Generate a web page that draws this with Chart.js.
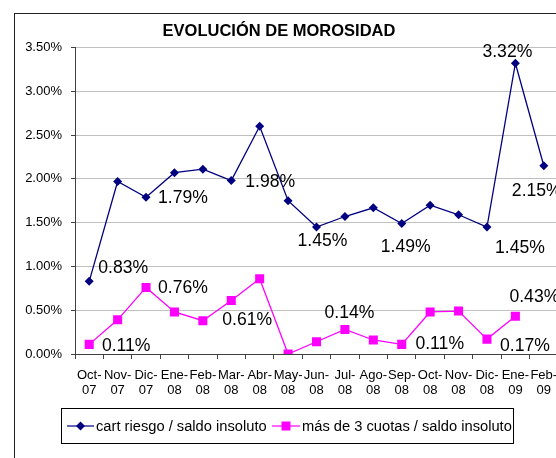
<!DOCTYPE html>
<html>
<head>
<meta charset="utf-8">
<script src="https://cdn.jsdelivr.net/npm/chart.js@4"></script>
<style>
  html, body { margin:0; padding:0; overflow:hidden; background:#fff; }
  #wrap { position:relative; width:580px; height:458px; }
</style>
</head>
<body>
<div id="wrap"><canvas id="c" width="580" height="458"></canvas></div>
<script>
// data
const months = [['Oct-','07'],['Nov-','07'],['Dic-','07'],['Ene-','08'],['Feb-','08'],['Mar-','08'],['Abr-','08'],['May-','08'],['Jun-','08'],
  ['Jul-','08'],['Ago-','08'],['Sep-','08'],['Oct-','08'],['Nov-','08'],['Dic-','08'],['Ene-','09'],['Feb-','09']];
const cartRiesgo = [0.83,1.97,1.79,2.07,2.11,1.98,2.60,1.75,1.45,1.57,1.67,1.49,1.70,1.59,1.45,3.32,2.15];
const masDe3Cuotas = [0.11,0.39,0.76,0.48,0.38,0.61,0.86,0.00,0.14,0.28,0.16,0.11,0.48,0.49,0.17,0.43,null];
const seriesNames = ['cart riesgo / saldo insoluto','más de 3 cuotas / saldo insoluto'];
const yTicks = [0,0.5,1,1.5,2,2.5,3,3.5];

// which points carry a value label, and where it sits relative to the point
const labelSpots = [
  {ds:0, i:0, dx:34, dy:-13}, {ds:0, i:2, dx:37, dy:1}, {ds:0, i:5, dx:39, dy:2},
  {ds:0, i:8, dx:6, dy:14}, {ds:0, i:11, dx:4, dy:24}, {ds:0, i:14, dx:33, dy:21},
  {ds:0, i:15, dx:-8, dy:-11}, {ds:0, i:16, dx:-7, dy:25},
  {ds:1, i:0, dx:37, dy:2}, {ds:1, i:2, dx:37, dy:1}, {ds:1, i:5, dx:16, dy:20},
  {ds:1, i:8, dx:33, dy:-29}, {ds:1, i:11, dx:38, dy:0}, {ds:1, i:14, dx:38, dy:7},
  {ds:1, i:15, dx:19, dy:-19}
];

const FONT = '"Liberation Sans", Arial, sans-serif';
const NAVY = '#000080', PINK = '#FF00FF';

const decor = {
  id:'decor',
  beforeDraw(chart){
    const ctx = chart.ctx;
    ctx.save();
    ctx.strokeStyle = '#222'; ctx.lineWidth = 1;
    ctx.strokeRect(14.5, 13.5, 700, 600);
    ctx.restore();
  },
  afterDatasetsDraw(chart){
    const ctx = chart.ctx;
    ctx.save();
    ctx.font = '17.6px ' + FONT;
    ctx.fillStyle = '#000';
    ctx.textAlign = 'center'; ctx.textBaseline = 'middle';
    labelSpots.forEach(s=>{
      const pt = chart.getDatasetMeta(s.ds).data[s.i];
      const v = chart.data.datasets[s.ds].data[s.i];
      ctx.fillText(v.toFixed(2)+'%', pt.x + s.dx, pt.y + s.dy);
    });
    // title
    ctx.font = 'bold 16.5px ' + FONT;
    ctx.fillText('EVOLUCIÓN DE MOROSIDAD', 279, 31);
    // legend
    ctx.strokeStyle = '#000'; ctx.lineWidth = 1;
    ctx.strokeRect(61.5, 408.5, 452, 35);
    ctx.font = '14.7px ' + FONT;
    ctx.textAlign = 'left';
    const items = [
      {x0:67, x1:94, tx:96, color:NAVY, shape:'diamond'},
      {x0:272, x1:300, tx:302, color:PINK, shape:'square'}
    ];
    items.forEach((it,k)=>{
      const y = 426;
      ctx.strokeStyle = it.color; ctx.lineWidth = 1.2;
      ctx.beginPath(); ctx.moveTo(it.x0, y); ctx.lineTo(it.x1, y); ctx.stroke();
      const cx = (it.x0+it.x1)/2;
      ctx.fillStyle = it.color;
      ctx.beginPath();
      if(it.shape==='diamond'){ ctx.moveTo(cx,y-4.5); ctx.lineTo(cx+4.5,y); ctx.lineTo(cx,y+4.5); ctx.lineTo(cx-4.5,y); }
      else { ctx.rect(cx-4.5, y-4.5, 9, 9); }
      ctx.fill();
      ctx.fillStyle = '#000';
      ctx.fillText(seriesNames[k], it.tx, y+1);
    });
    ctx.restore();
  }
};

new Chart(document.getElementById('c'), {
  type:'line',
  data:{
    labels: months,
    datasets:[
      {label:seriesNames[0], data:cartRiesgo, borderColor:NAVY, backgroundColor:NAVY, borderWidth:1.3,
        pointStyle:'rectRot', pointRadius:4.5, pointBorderWidth:0, tension:0},
      {label:seriesNames[1], data:masDe3Cuotas, borderColor:PINK, backgroundColor:PINK, borderWidth:1.3,
        pointStyle:'rect', pointRadius:6.4, pointBorderWidth:0, tension:0}
    ]
  },
  options:{
    responsive:false, animation:false,
    layout:{ padding:{ left:0, top:47.5, right:22, bottom:44 } },
    plugins:{ legend:{display:false}, title:{display:false}, tooltip:{enabled:false} },
    scales:{
      x:{
        offset:true,
        grid:{ offset:true, drawOnChartArea:false, drawTicks:true, tickLength:5, color:'#404040', tickColor:'#404040' },
        border:{ color:'#404040', width:1 },
        ticks:{ autoSkip:false, maxRotation:0, minRotation:0, padding:9, color:'#000',
          font:{ family:FONT, size:13, lineHeight:1.15 } },
        afterFit(s){ s.height = 60; }
      },
      y:{
        min:0, max:3.5,
        afterBuildTicks(s){ s.ticks = yTicks.map(v=>({value:v})); },
        grid:{ color:'#c0c0c0', lineWidth:1, tickLength:4, tickColor:'#404040' },
        border:{ color:'#404040', width:1 },
        ticks:{ padding:9, color:'#000', font:{ family:FONT, size:13 },
          callback:v=>v.toFixed(2)+'%' },
        afterFit(s){ s.width = 75; }
      }
    }
  },
  plugins:[decor]
});
</script>
</body>
</html>
